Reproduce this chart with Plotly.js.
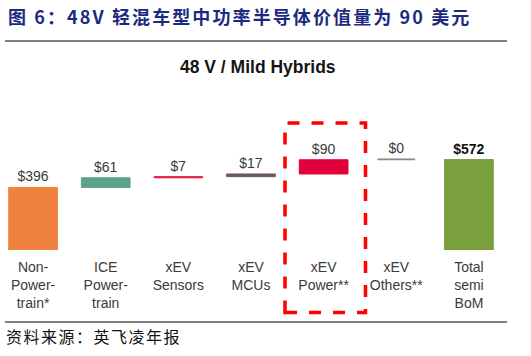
<!DOCTYPE html>
<html>
<head>
<meta charset="utf-8">
<script src="https://cdn.plot.ly/plotly-3.0.1.min.js"></script>
<style>
html,body{margin:0;padding:0;background:#fff;}
#chart{width:531px;height:356px;}
.annotation[data-index="1"] text{letter-spacing:2.1px;}
.annotation[data-index="2"] text{letter-spacing:1.5px;}
</style>
</head>
<body>
<div id="chart"></div>
<script>
// ---- data ----
var categories = ["Non-<br>Power-<br>train*", "ICE<br>Power-<br>train", "xEV<br>Sensors", "xEV<br>MCUs", "xEV<br>Power**", "xEV<br>Others**", "Total<br>semi<br>BoM"];
var values = [396, 61, 7, 17, 90, 0, 572];
var isTotal = [false, false, false, false, false, false, true];
var barColors = ["#EF823D", "#5DA28C", "#E2173D", "#6D5A5D", "#E2003A", "#8E8285", "#7A9F3D"];

// cumulative bases for the waterfall
var bases = [];
var running = 0;
for (var i = 0; i < values.length; i++) {
  if (isTotal[i]) { bases.push(0); }
  else { bases.push(running); running += values[i]; }
}
// minimal visible thickness for zero-value bars (style only)
var drawn = values.map(function (v) { return Math.max(v, 5); });
var labels = values.map(function (v, i) { return isTotal[i] ? "<b>$" + v + "</b>" : "$" + v; });
var labelColors = values.map(function (v, i) { return isTotal[i] ? "#111111" : "#3a3a3a"; });
var widths = [0.67, 0.67, 0.67, 0.67, 0.67, 0.51, 0.67];
var xIdx = categories.map(function (c, i) { return i; });

var trace = {
  type: "bar",
  x: xIdx,
  y: drawn,
  base: bases,
  width: widths,
  marker: { color: barColors, line: { color: barColors, width: 1 } },
  text: labels,
  textposition: "outside",
  textfont: { family: "Liberation Sans, Arial, sans-serif", size: 14, color: labelColors },
  constraintext: "none",
  cliponaxis: false,
  hoverinfo: "skip"
};

var layout = {
  width: 531, height: 356,
  margin: { l: 4, r: 33, t: 100, b: 106 },
  paper_bgcolor: "#ffffff", plot_bgcolor: "#ffffff",
  showlegend: false,
  xaxis: {
    range: [-0.4, 6.4],
    tickmode: "array", tickvals: xIdx, ticktext: categories,
    ticks: "outside", ticklen: 4, tickcolor: "rgba(0,0,0,0)",
    showgrid: false, zeroline: false, showline: false,
    tickfont: { family: "Liberation Sans, Arial, sans-serif", size: 14, color: "#3a3a3a" }
  },
  yaxis: { range: [0, 949], visible: false, showgrid: false, zeroline: false },
  annotations: [
    { xref: "paper", yref: "paper", x: 253.5 / 494, y: 1 + (100 - 67) / 150, xanchor: "center", yanchor: "middle",
      text: "<b>48 V / Mild Hybrids</b>", showarrow: false,
      font: { family: "Liberation Sans, Arial, sans-serif", size: 17.5, color: "#151515" } },
    { xref: "paper", yref: "paper", x: (6 - 4) / 494, y: 1 + (100 - 16) / 150, xanchor: "left", yanchor: "middle", align: "left",
      text: "<b>图 6：48V 轻混车型中功率半导体价值量为 90 美元</b>", showarrow: false,
      font: { family: "Noto Sans CJK SC, sans-serif", size: 18, color: "#1c2a80" } },
    { xref: "paper", yref: "paper", x: (4 - 4) / 494, y: -(336 - 250) / 150, xanchor: "left", yanchor: "middle", align: "left",
      text: "资料来源：英飞凌年报", showarrow: false,
      font: { family: "Noto Sans CJK SC, sans-serif", size: 16, color: "#111111" } }
  ],
  shapes: [
    { type: "line", xref: "paper", yref: "paper", x0: (5 - 4) / 494, x1: (507 - 4) / 494,
      y0: 1 + (100 - 41) / 150, y1: 1 + (100 - 41) / 150, line: { color: "#000", width: 1 } },
    { type: "line", xref: "paper", yref: "paper", x0: (5 - 4) / 494, x1: (507 - 4) / 494,
      y0: -(322 - 250) / 150, y1: -(322 - 250) / 150, line: { color: "#000", width: 1 } },
    { type: "rect", xref: "paper", yref: "paper", x0: (285 - 4) / 494, x1: (365.5 - 4) / 494,
      y0: -(312.5 - 250) / 150, y1: 1 - (123 - 100) / 150,
      line: { color: "#FF0000", width: 3.5, dash: "12px,12px" }, fillcolor: "rgba(0,0,0,0)" }
  ]
};

Plotly.newPlot("chart", [trace], layout, { staticPlot: true, displayModeBar: false });
</script>
</body>
</html>
